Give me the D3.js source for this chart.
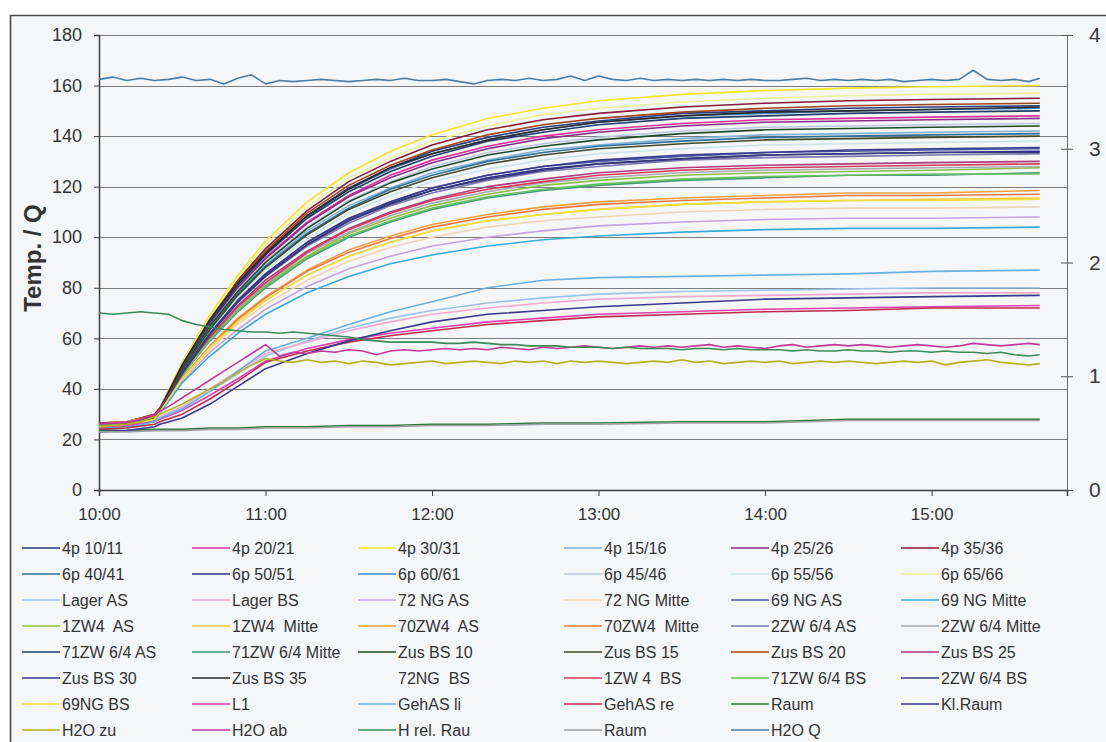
<!DOCTYPE html>
<html><head><meta charset="utf-8">
<script src="https://cdn.jsdelivr.net/npm/d3@7"></script>
<style>
html,body{margin:0;padding:0;background:#fff;}
svg{display:block;font-family:"Liberation Sans",Arial,sans-serif;}
</style></head><body>
<svg id="chart" width="1106" height="742"></svg>
<script>
// ---------- data ----------
const minutesGrid = [0,10,20,22,30,40,50,60,75,90,105,120,140,160,180,210,240,270,300,339];
const denseMinutes = [0,5,10,15,20,25,30,35,40,45,
  50,55,60,65,70,75,80,85,90,95,
  100,105,110,115,120,125,130,135,140,145,
  150,155,160,165,170,175,180,185,190,195,
  200,205,210,215,220,225,230,235,240,245,
  250,255,260,265,270,275,280,285,290,295,
  300,305,310,315,320,325,330,335,339];
const timeTickMinutes = [0,60,120,180,240,300];
const timeTickLabels = ["10:00","11:00","12:00","13:00","14:00","15:00"];
const leftTicks = [0,20,40,60,80,100,120,140,160,180];
const rightTicks = [0,1,2,3,4];

const seriesNames = [
 "4p 10/11","4p 20/21","4p 30/31","4p 15/16","4p 25/26","4p 35/36",
 "6p 40/41","6p 50/51","6p 60/61","6p 45/46","6p 55/56","6p 65/66",
 "Lager AS","Lager BS","72 NG AS","72 NG Mitte","69 NG AS","69 NG Mitte",
 "1ZW4  AS","1ZW4  Mitte","70ZW4  AS","70ZW4  Mitte","2ZW 6/4 AS","2ZW 6/4 Mitte",
 "71ZW 6/4 AS","71ZW 6/4 Mitte","Zus BS 10","Zus BS 15","Zus BS 20","Zus BS 25",
 "Zus BS 30","Zus BS 35","72NG  BS","1ZW 4  BS","71ZW 6/4 BS","2ZW 6/4 BS",
 "69NG BS","L1","GehAS li","GehAS re","Raum","Kl.Raum",
 "H2O zu","H2O ab","H rel. Rau","Raum","H2O Q"];

const denseSeries = ["H2O zu","H2O ab","H rel. Rau","H2O Q"];
const rightAxisSeries = ["H2O Q"];

const seriesValues = [
 [26,26.5,29.5,32,49,67,82,94,108.5,119.5,127.5,134,139.5,143.5,146,149,150,151,151.5,152],
 [26.5,27,30,32.5,48.5,66,80.5,92,106,116.5,124.5,130.5,136,140,142.5,145,146.5,147,147.5,148],
 [26.5,27,30,32.5,50.5,69.5,85,98.5,114,125.5,134,140.5,147,151,154,156.5,158,159,159.5,160],
 [25.5,26,28.5,31.5,47.5,64,78,89,102.5,112.5,119.5,125.5,130.5,134.5,136.5,139,140.5,141,141.5,142],
 [26,26.5,29.5,32,48.5,65.5,80,91.5,105.5,116,123.5,129.5,135,139,141.5,144,145.5,146,146.5,147],
 [26.5,27,30,32.5,49.5,68,83,95.5,110.5,122,130,136.5,142.5,146.5,149,151.5,153,154,154.5,155],
 [25,25.5,28.5,31.5,47.5,64,77.5,88.5,101.5,111.5,119,124.5,130,133.5,136,138,139.5,140,140.5,141],
 [25.5,26,28.5,31.5,46.5,62,74.5,85,97,106.5,113.5,118.5,123.5,127,129,131,132.5,133,133.5,134],
 [25.5,26,29,32,49,67,81.5,93.5,108,119,127,133,138.5,142.5,145.5,148,149,150,150.5,151],
 [25.5,26,29,31.5,48,65,79,90.5,104,114.5,122,128,133.5,137,139.5,142,143.5,144,144.5,145],
 [25.5,26,28.5,31.5,47,63,76,87,99.5,109.5,116.5,122,127,130.5,133,135,136.5,137,137.5,138],
 [26,27,29.5,32,50,68.5,84,97,112,123.5,131.5,138,144,148.5,151,153.5,155,156,156.5,157],
 [24.5,25,27.5,28.5,32.5,39,46,53,59,64,68,71,74,76,77.5,78.5,79,79.5,80,80],
 [25,25.5,28,29,33,40,47,54,58.5,63,66.5,69.5,72,74,75.5,76.5,77,77.5,78,78],
 [25,25.5,28,31,43,54.5,63.5,71.5,80.5,87.5,92.5,96.5,100,102.5,104.5,106,107,107.5,107.5,108],
 [25,25.5,28,31,43.5,55.5,65.5,73.5,83,90.5,96,100,104,106.5,108,110,111,111.5,111.5,112],
 [25,25.5,28.5,31.5,46.5,62,75,85.5,98,107,114,119.5,124.5,128,130,132,133.5,134,134.5,135],
 [24.5,25,27.5,30.5,42.5,53,62,69.5,78,84.5,89.5,93,96.5,99,100.5,102,103,103.5,103.5,104],
 [25,25.5,28.5,31.5,45.5,60,71.5,81,92.5,101.5,107.5,112.5,117,120.5,122.5,124.5,125.5,126,126.5,127.5],
 [25.5,26,28.5,31.5,44,56.5,66.5,75,85,92.5,98,102.5,106.5,109,111,113,114,114.5,115,115.5],
 [25.5,26,28.5,31.5,44.5,57,68,76.5,87,95,100.5,105,109,112,114,115.5,116.5,117.5,117.5,118.5],
 [25.5,26,28.5,31.5,44,57,67.5,76,86.5,94,99.5,104,108,111,113,114.5,115.5,116.5,116.5,117],
 [25,25.5,28.5,31.5,46.5,61.5,74,84.5,96.5,105.5,112.5,117.5,122.5,126,128,130.5,131.5,132,132.5,133],
 [25,25.5,28.5,31.5,45.5,60,72,81.5,93.5,102,108.5,113.5,118,121.5,123.5,125.5,126.5,127,127.5,128],
 [25.5,26,29,31.5,49,66.5,81,93,107.5,118,126,132,138,141.5,144.5,147,148,149,149.5,150],
 [25,25.5,28.5,31.5,45.5,59,70.5,80,91.5,100,106,111,115.5,118.5,120.5,122.5,123.5,124.5,124.5,125.5],
 [26,26.5,29,32,48,65,78.5,90,103.5,114,121.5,127,132.5,136,138.5,141,142.5,143,143.5,144],
 [25.5,26,29,32,47.5,63.5,77,88,101,111,118,123.5,129,132.5,135,137,138.5,139,139.5,140],
 [26,26.5,29.5,32,49.5,67.5,82.5,94.5,109.5,120.5,128.5,134.5,140.5,144.5,147,149.5,151,152,152.5,153],
 [26,26.5,29,32,46,60.5,73,83,94.5,103.5,110,115,120,123,125.5,127.5,128.5,129,129.5,130],
 [25.5,26,29,32,46.5,62,75,85.5,98,107.5,114,119.5,124.5,128,130.5,132.5,133.5,134.5,135,135.5],
 [26,26.5,29.5,32,49.5,67.5,82,93.5,108.5,119,127.5,133,138.5,142.5,145.5,148,149.5,150,150.5,151.5],
 [25,25.5,28,31,43,55,65,73,82,89.5,94.5,98.5,102.5,105,106.5,108,109,109.5,110,110],
 [26,26.5,29.5,32,46,60.5,72.5,82,94,103,109.5,114.5,119,122,124.5,126.5,127.5,128,128.5,129],
 [25.5,26,28.5,31.5,45.5,59.5,71,80.5,92,100.5,106.5,111.5,116,119,121,123,124,124.5,125,125],
 [25,25.5,28.5,31.5,46,61.5,74.5,84.5,97,106.5,113,118.5,123,126.5,129,131,132.5,133,133.5,133.5],
 [25,25.5,28,31,44,56.5,66.5,75,85,92.5,98,102.5,106.5,109,111,113,114,114.5,114.5,115],
 [25,25.5,27,28,31.5,37.5,44,51,56,59.5,62,64,66.5,68,69.5,70.5,71.5,72,72.5,73],
 [24,24.5,27,28.5,32,39,47,55,60,65.5,70.5,74.5,80,83,84,84.5,85,85.5,86.5,87],
 [24,24.5,26,27,30,36,43,50.5,55,58.5,61,63,65.5,67,68.5,69.5,70.5,71,72,72],
 [23.5,23.5,24,24,24,24.5,24.5,25,25,25.5,25.5,26,26,26.5,26.5,27,27,28,28,28],
 [23,23.5,25,26,28.5,34,41,48,54,59,63,66.5,69.5,71,72.5,74,75.5,76,76.5,77],
 [25,25.5,26,27,29,31.5,34,37,40,43,
  46.5,49.5,52,51,50.5,51.5,50.5,51,50,51,
  50.5,49.5,50,50.5,51,50,50.5,51,50.5,50,
  51,50.5,51,50,51,50.5,51,50.5,50,50.5,
  51,50.5,51.5,50.5,51,50,50.5,51,50.5,51,
  50,50.5,51,50.5,51,50.5,50,50.5,51,50.5,
  51,49.5,50.5,51,51.5,50.5,50,49.5,50],
 [26.5,26.5,27,28,30,33,36.5,40,43.5,47,
  50.5,54,57.5,53,54.5,54,55,54.5,55.5,55,
  53.5,55,55.5,55,55.5,56,55.5,56,55.5,56.5,
  56,55.5,56.5,56,56.5,57,56.5,56,56.5,57,
  56.5,57,56.5,57,57.5,56.5,57,56.5,56,57,
  57.5,56.5,57,57.5,57,57.5,57,56.5,57,57.5,
  57,56.5,57,58,57.5,57,57.5,58,57.5],
 [70,69.5,70,70.5,70,69.5,67,65.5,64.5,63.5,
  63,62.5,62.5,62,62.5,62,61.5,61,60.5,59.5,
  59,58.5,58.5,58.5,58.5,58,58,58.5,58,57.5,
  57.5,57,57,57,56.5,56.5,56.5,56,56.5,56,
  56,56,55.5,56,56,55.5,56,55.5,55.5,55.5,
  55,55.5,55,55,55.5,55,55,54.5,55,55,
  54.5,55,54.5,54.5,54,54.5,53.5,53,53.5],
 [23,23,23.5,23.5,23.5,24,24,24.5,24.5,25,25,25.5,25.5,26,26,26.5,26.5,27.5,27.5,27.5],
 [3.61,3.63,3.60,3.62,3.60,3.61,3.63,3.60,3.61,3.57,
  3.62,3.65,3.57,3.60,3.59,3.60,3.61,3.60,3.59,3.60,
  3.61,3.60,3.62,3.60,3.60,3.61,3.59,3.57,3.60,3.61,
  3.60,3.62,3.60,3.61,3.64,3.60,3.64,3.61,3.60,3.62,
  3.60,3.61,3.60,3.61,3.60,3.61,3.60,3.61,3.60,3.60,
  3.61,3.62,3.60,3.61,3.60,3.61,3.60,3.61,3.59,3.60,
  3.61,3.60,3.61,3.69,3.61,3.60,3.61,3.59,3.62]
];

// ---------- styles ----------
const seriesColors = [
 "#2b3a7a","#e0309a","#f2e62a","#7fb2d8","#8a2a8a","#8a1a3a",
 "#2f6f95","#2a2a8a","#3a8acb","#b8c8e0","#c8e4ea","#eef09a",
 "#9cc4ea","#eeaad0","#c2a4e0","#f0d4b8","#4a5aa8","#3aaad8",
 "#8cc048","#f4c838","#f4a040","#ee7a40","#7a7ab0","#a8a8b0",
 "#1f3f6a","#3f9a78","#1f4a2a","#3f4a2a","#a0441a","#b03a7a",
 "#3a3a8a","#2a2a2a","none","#d03a5a","#6ac060","#3a3a7a",
 "#f0e040","#e040b0","#6ab0e0","#c02a50","#2a7a3a","#3a3a8a",
 "#b8b020","#c03a9a","#3a8a5a","#a0a0a8","#4a7ca6"];

const W = 1106, H = 742;
const plot = {left: 99, right: 1067, top: 35, bottom: 490};
const svg = d3.select("#chart");

svg.append("rect").attr("x",0).attr("y",0).attr("width",W).attr("height",H).attr("fill","#ffffff");
svg.append("rect").attr("x",10).attr("y",15).attr("width",W-10).attr("height",H-15).attr("fill","#f4f6f8");
svg.append("path").attr("d",`M10.5,${H} L10.5,15.5 L${W},15.5`).attr("fill","none").attr("stroke","#4a4a4a").attr("stroke-width",1.6);

const x = d3.scaleLinear().domain([0, 348.8]).range([plot.left, plot.right]);
const y = d3.scaleLinear().domain([0, 180]).range([plot.bottom, plot.top]);
const yR = d3.scaleLinear().domain([0, 4]).range([plot.bottom, plot.top]);

// gridlines
svg.append("g").selectAll("line").data(leftTicks).join("line")
  .attr("x1", plot.left).attr("x2", plot.right)
  .attr("y1", d => Math.round(y(d))+0.5).attr("y2", d => Math.round(y(d))+0.5)
  .attr("stroke", "#7c7c80").attr("stroke-width", 1);

// plot border
svg.append("line").attr("x1",plot.right+0.5).attr("x2",plot.right+0.5).attr("y1",plot.top).attr("y2",plot.bottom).attr("stroke","#6c6c70").attr("stroke-width",1);

// left axis
const gL = svg.append("g").attr("transform",`translate(${plot.left},0)`)
  .call(d3.axisLeft(y).tickValues(leftTicks).tickSize(5).tickPadding(12).tickFormat(d3.format("d")));
gL.select(".domain").attr("stroke","#3c3c3c").attr("stroke-width",1.5);
gL.selectAll(".tick line").attr("stroke","#3c3c3c");
gL.selectAll("text").attr("font-size",18).attr("fill","#333").attr("font-family","Liberation Sans, Arial, sans-serif");

// right axis
const gR = svg.append("g").attr("transform",`translate(${plot.right},0)`)
  .call(d3.axisRight(yR).tickValues(rightTicks).tickSize(6).tickPadding(16).tickFormat(d3.format("d")));
gR.select(".domain").remove();
gR.selectAll(".tick line").attr("x1",-6).attr("stroke","#555");
gR.selectAll("text").attr("font-size",21).attr("fill","#3a3a3a").attr("font-family","Liberation Sans, Arial, sans-serif");

// bottom axis
const gB = svg.append("g").attr("transform",`translate(0,${plot.bottom})`)
  .call(d3.axisBottom(x).tickValues(timeTickMinutes).tickSize(6).tickPadding(12)
    .tickFormat((d,i) => timeTickLabels[i]));
gB.select(".domain").attr("stroke","#3c3c3c").attr("stroke-width",1.5);
gB.selectAll(".tick line").attr("stroke","#3c3c3c");
gB.selectAll("text").attr("font-size",17).attr("fill","#333").attr("font-family","Liberation Sans, Arial, sans-serif");

// y title
svg.append("text").attr("transform","translate(41,258) rotate(-90)")
  .attr("text-anchor","middle").attr("font-size",24).attr("font-weight","bold").attr("fill","#333")
  .text("Temp. / Q");

// series lines
const gLines = svg.append("g");
seriesNames.forEach((name, i) => {
  const color = seriesColors[i];
  if (color === "none") return;
  const grid = denseSeries.includes(name) ? denseMinutes : minutesGrid;
  const ys = rightAxisSeries.includes(name) ? yR : y;
  const vals = seriesValues[i];
  const pts = grid.slice(0, vals.length).map((m, k) => [m, vals[k]]);
  const line = d3.line().x(d => x(d[0])).y(d => ys(d[1]));
  gLines.append("path").datum(pts).attr("d", line)
    .attr("fill","none").attr("stroke", color).attr("stroke-width", 1.6)
    .attr("stroke-linejoin","round");
});

// legend
const legendCols = [22, 192, 358, 564, 731, 901];
const legendRow0 = 548, legendRowStep = 26;
const gLeg = svg.append("g");
seriesNames.forEach((name, i) => {
  const col = i % 6, row = Math.floor(i / 6);
  const lx = legendCols[col], ly = legendRow0 + row*legendRowStep;
  if (seriesColors[i] !== "none") {
    gLeg.append("line").attr("x1", lx).attr("x2", lx+38).attr("y1", ly).attr("y2", ly)
      .attr("stroke", seriesColors[i]).attr("stroke-width", 1.6);
  }
  gLeg.append("text").attr("x", lx+40).attr("y", ly).attr("dy","0.35em")
    .attr("font-size",16).attr("fill","#333").style("white-space","pre").text(name);
});
</script>
</body></html>
